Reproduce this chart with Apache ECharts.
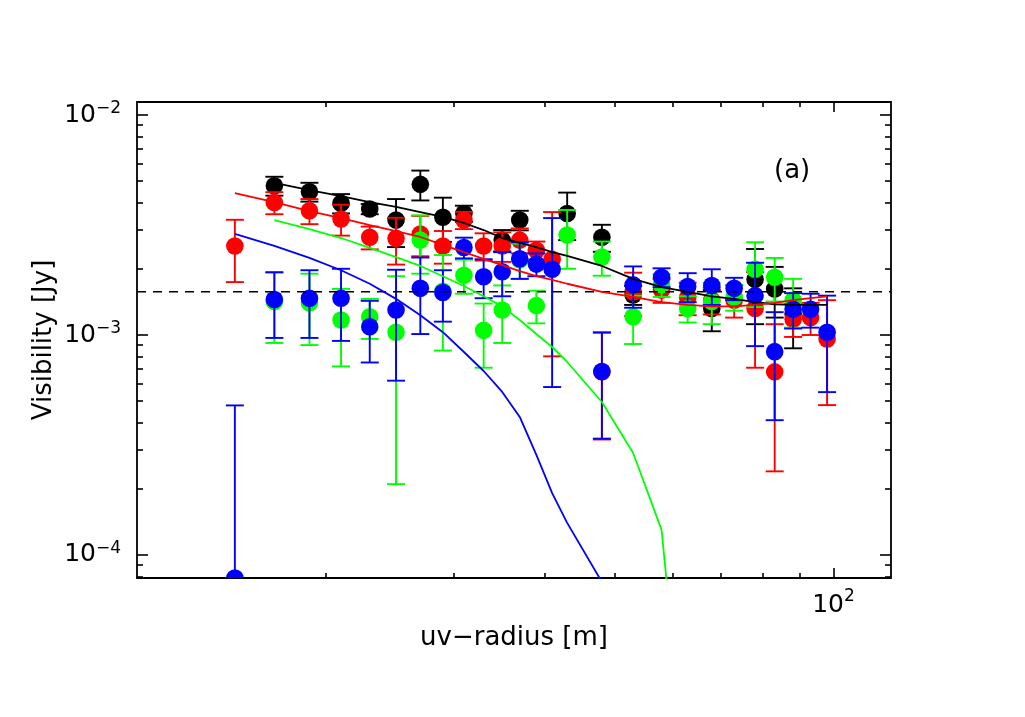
<!DOCTYPE html>
<html><head><meta charset="utf-8">
<script src="https://cdn.jsdelivr.net/npm/echarts@6/dist/echarts.min.js"></script>
<style>html,body{margin:0;padding:0;background:#fff}#c{width:1025px;height:717px}</style>
</head><body><div id="c"></div>
<script>
// uv-radius of each bin [m]
const uvRadius = [15,17,19,21,23,25,27,29,31,33,35,37,39,41,43,48,53,58,63,68,73,78,83,88,93,98];
// Visibilities and 1-sigma errors in mJy (null = no point)
const blackVis = [null,4.77,4.48,3.97,3.74,3.33,4.84,3.43,3.57,null,2.70,3.33,null,null,3.57,2.78,1.52,null,null,1.32,null,1.79,1.62,1.25,null,null];
const blackErr = [null,0.47,0.44,0.40,0.20,0.82,0.75,0.78,0.30,null,0.30,0.34,null,null,0.87,0.39,0.15,null,null,0.28,null,0.67,0.42,0.38,null,null];
const redVis   = [2.54,4.00,3.67,3.37,2.78,2.75,2.88,2.54,3.33,2.54,2.54,2.70,2.43,2.21,null,0.68,1.57,1.60,1.48,1.44,1.44,1.32,0.68,1.18,1.20,0.96];
const redErr   = [0.80,0.46,0.48,0.54,0.33,0.66,0.60,0.43,0.30,0.36,0.39,0.35,0.23,1.41,null,0.345,0.35,0.20,0.25,0.20,0.24,0.61,0.44,0.20,0.20,0.48];
const greenVis = [null,1.42,1.40,1.17,1.21,1.03,2.70,1.58,1.87,1.05,1.30,2.20,1.36,null,2.85,2.26,1.21,1.69,1.32,1.42,1.49,1.99,1.83,1.44,null,null];
const greenErr = [null,0.50,0.50,0.45,0.25,0.82,0.80,0.73,0.33,0.34,0.38,0.40,0.23,null,0.85,0.40,0.30,0.20,0.18,0.30,0.20,0.65,0.41,0.36,null,null];
const blueVis  = [0.0786,1.45,1.47,1.47,1.09,1.30,1.63,1.56,2.50,1.84,1.94,2.22,2.10,1.99,null,0.683,1.69,1.83,1.66,1.68,1.63,1.51,0.84,1.31,1.31,1.03];
const blueErr  = [0.40,0.48,0.50,0.53,0.34,0.68,0.62,0.41,0.27,0.37,0.44,0.42,0.25,1.41,null,0.345,0.36,0.18,0.25,0.31,0.19,0.62,0.43,0.24,0.23,0.48];
// Model curves in mJy at the same uv-radii
const blackModel = [null,4.91,4.56,4.28,4.02,3.82,3.62,3.44,3.23,3.00,2.76,2.62,2.51,2.38,2.29,2.06,1.80,1.65,1.57,1.50,1.46,1.41,1.38,1.37,1.37,1.37];
const redModel   = [4.42,4.02,3.66,3.40,3.16,2.97,2.79,2.57,2.38,2.22,2.08,1.95,1.85,1.78,1.71,1.57,1.49,1.41,1.37,1.35,1.35,1.37,1.40,1.44,1.47,1.50];
const greenModel = [null,3.33,3.03,2.76,2.49,2.26,2.06,1.85,1.67,1.50,1.35,1.17,1.01,0.882,0.754,0.496,0.291,0.130,0.0079,null,null,null,null,null,null,null];
const blueModel  = [2.88,2.54,2.24,1.97,1.71,1.46,1.23,1.03,0.837,0.686,0.551,0.424,0.285,0.191,0.140,0.0754,null,null,null,null,null,null,null,null,null,null];
// Reference level [mJy]
const dashedLevel = 1.573;
// Axis ranges and ticks
const xRange = [11, 120];
const yRange = [7.86e-5, 1.146e-2];
const xMajorTicks = [100];
const xMinorTicks = [20,30,40,50,60,70,80,90];
const yMajorTicks = [1e-4, 1e-3, 1e-2];
const yMinorTicks = [8e-5,9e-5,2e-4,3e-4,4e-4,5e-4,6e-4,7e-4,8e-4,9e-4,2e-3,3e-3,4e-3,5e-3,6e-3,7e-3,8e-3,9e-3];

const MJY = 1e-3;
const FONT = 'DejaVu Sans';
function pts(vis, err) {
  const out = [];
  vis.forEach((v, i) => {
    if (v == null) return;
    const s = err[i];
    out.push([uvRadius[i], v * MJY, Math.max(v - s, 1e-4) * MJY, (v + s) * MJY]);
  });
  return out;
}
function curve(m) {
  const out = [];
  m.forEach((v, i) => { if (v != null) out.push([uvRadius[i], v * MJY]); });
  return out;
}
const L = Math.log10;
function expText(v) {
  const e = Math.round(v);
  return '{b|10}{s|' + (e < 0 ? '\u2212' + (-e) : e) + '}';
}
const richY = {
  b: {fontSize: 25, fontFamily: FONT, color: '#000', lineHeight: 30},
  s: {fontSize: 17, fontFamily: FONT, color: '#000', lineHeight: 17, verticalAlign: 'top'}
};
const richX = {
  b: {fontSize: 25, fontFamily: FONT, color: '#000', lineHeight: 34},
  s: {fontSize: 17, fontFamily: FONT, color: '#000', lineHeight: 17, verticalAlign: 'top'}
};
const tickStyle = {color: '#000', width: 1.6};

function auxX(pos, vals, len, label) {
  return {
    type: 'value', position: pos, min: L(xRange[0]), max: L(xRange[1]),
    axisLine: {show: false}, splitLine: {show: false},
    axisTick: {show: true, inside: true, length: len, customValues: vals.map(L), lineStyle: tickStyle},
    axisLabel: label ? {show: true, customValues: vals.map(L), margin: 10, formatter: expText, rich: richX} : {show: false}
  };
}
function auxY(pos, vals, len, label) {
  return {
    type: 'value', position: pos, min: L(yRange[0]), max: L(yRange[1]),
    axisLine: {show: false}, splitLine: {show: false},
    axisTick: {show: true, inside: true, length: len, customValues: vals.map(L), lineStyle: tickStyle},
    axisLabel: label ? {show: true, customValues: vals.map(L), margin: 16, formatter: expText, rich: richY} : {show: false}
  };
}

function errSeries(name, color, data) {
  return {
    type: 'custom', name: name, xAxisIndex: 0, yAxisIndex: 0, clip: true, z: 3,
    encode: {x: 0, y: 1},
    data: data,
    renderItem: function (params, api) {
      const x = api.value(0), v = api.value(1), lo = api.value(2), hi = api.value(3);
      const c = api.coord([x, v]);
      const cl = api.coord([x, lo]);
      const ch = api.coord([x, hi]);
      const hw = 9, st = {stroke: color, lineWidth: 1.9};
      return {type: 'group', children: [
        {type: 'line', shape: {x1: c[0], y1: cl[1], x2: c[0], y2: ch[1]}, style: st},
        {type: 'line', shape: {x1: c[0] - hw, y1: ch[1], x2: c[0] + hw, y2: ch[1]}, style: st},
        {type: 'line', shape: {x1: c[0] - hw, y1: cl[1], x2: c[0] + hw, y2: cl[1]}, style: st},
        {type: 'circle', shape: {cx: c[0], cy: c[1], r: 8.8}, style: {fill: color}}
      ]};
    }
  };
}
function modelSeries(name, color, data) {
  return {
    type: 'line', name: name, xAxisIndex: 0, yAxisIndex: 0, data: data, clip: true, z: 5,
    symbol: 'none', silent: true, lineStyle: {color: color, width: 1.8}
  };
}

const chart = echarts.init(document.getElementById('c'), null, {renderer: 'canvas'});
chart.setOption({
  backgroundColor: '#fff',
  animation: false,
  grid: {left: 137, right: 134, top: 102, bottom: 139, show: true, borderColor: '#000', borderWidth: 1.8, backgroundColor: 'transparent'},
  xAxis: [
    {type: 'log', logBase: 10, min: xRange[0], max: xRange[1], position: 'bottom',
     axisLine: {show: false}, axisTick: {show: false}, axisLabel: {show: false}, splitLine: {show: false},
     name: 'uv\u2212radius [m]', nameLocation: 'middle', nameGap: 47,
     nameTextStyle: {fontSize: 26, fontFamily: FONT, color: '#000'}},
    auxX('bottom', xMinorTicks, 5, false),
    auxX('bottom', xMajorTicks, 10, true),
    auxX('top', xMinorTicks, 5, false),
    auxX('top', xMajorTicks, 10, false)
  ],
  yAxis: [
    {type: 'log', logBase: 10, min: yRange[0], max: yRange[1], position: 'left',
     axisLine: {show: false}, axisTick: {show: false}, axisLabel: {show: false}, splitLine: {show: false},
     name: 'Visibility [Jy]', nameLocation: 'middle', nameGap: 80,
     nameTextStyle: {fontSize: 26, fontFamily: FONT, color: '#000'}},
    auxY('left', yMinorTicks, 6, false),
    auxY('left', yMajorTicks, 11, true),
    auxY('right', yMinorTicks, 6, false),
    auxY('right', yMajorTicks, 11, false)
  ],
  graphic: [{type: 'text', left: 774, top: 158, style: {text: '(a)', fontSize: 26, fontFamily: FONT, fill: '#000'}}],
  series: [
    errSeries('black', '#000000', pts(blackVis, blackErr)),
    errSeries('red', '#ff0000', pts(redVis, redErr)),
    errSeries('green', '#00ff00', pts(greenVis, greenErr)),
    errSeries('blue', '#0000ff', pts(blueVis, blueErr)),
    modelSeries('black model', '#000000', curve(blackModel)),
    modelSeries('red model', '#ff0000', curve(redModel)),
    modelSeries('green model', '#00ff00', curve(greenModel)),
    modelSeries('blue model', '#0000ff', curve(blueModel)),
    {type: 'line', name: 'level', xAxisIndex: 0, yAxisIndex: 0, symbol: 'none', silent: true, z: 4,
     data: [[xRange[0], dashedLevel * MJY], [xRange[1], dashedLevel * MJY]],
     lineStyle: {color: '#000', width: 1.7, type: [9, 7]}}
  ]
});
</script></body></html>
